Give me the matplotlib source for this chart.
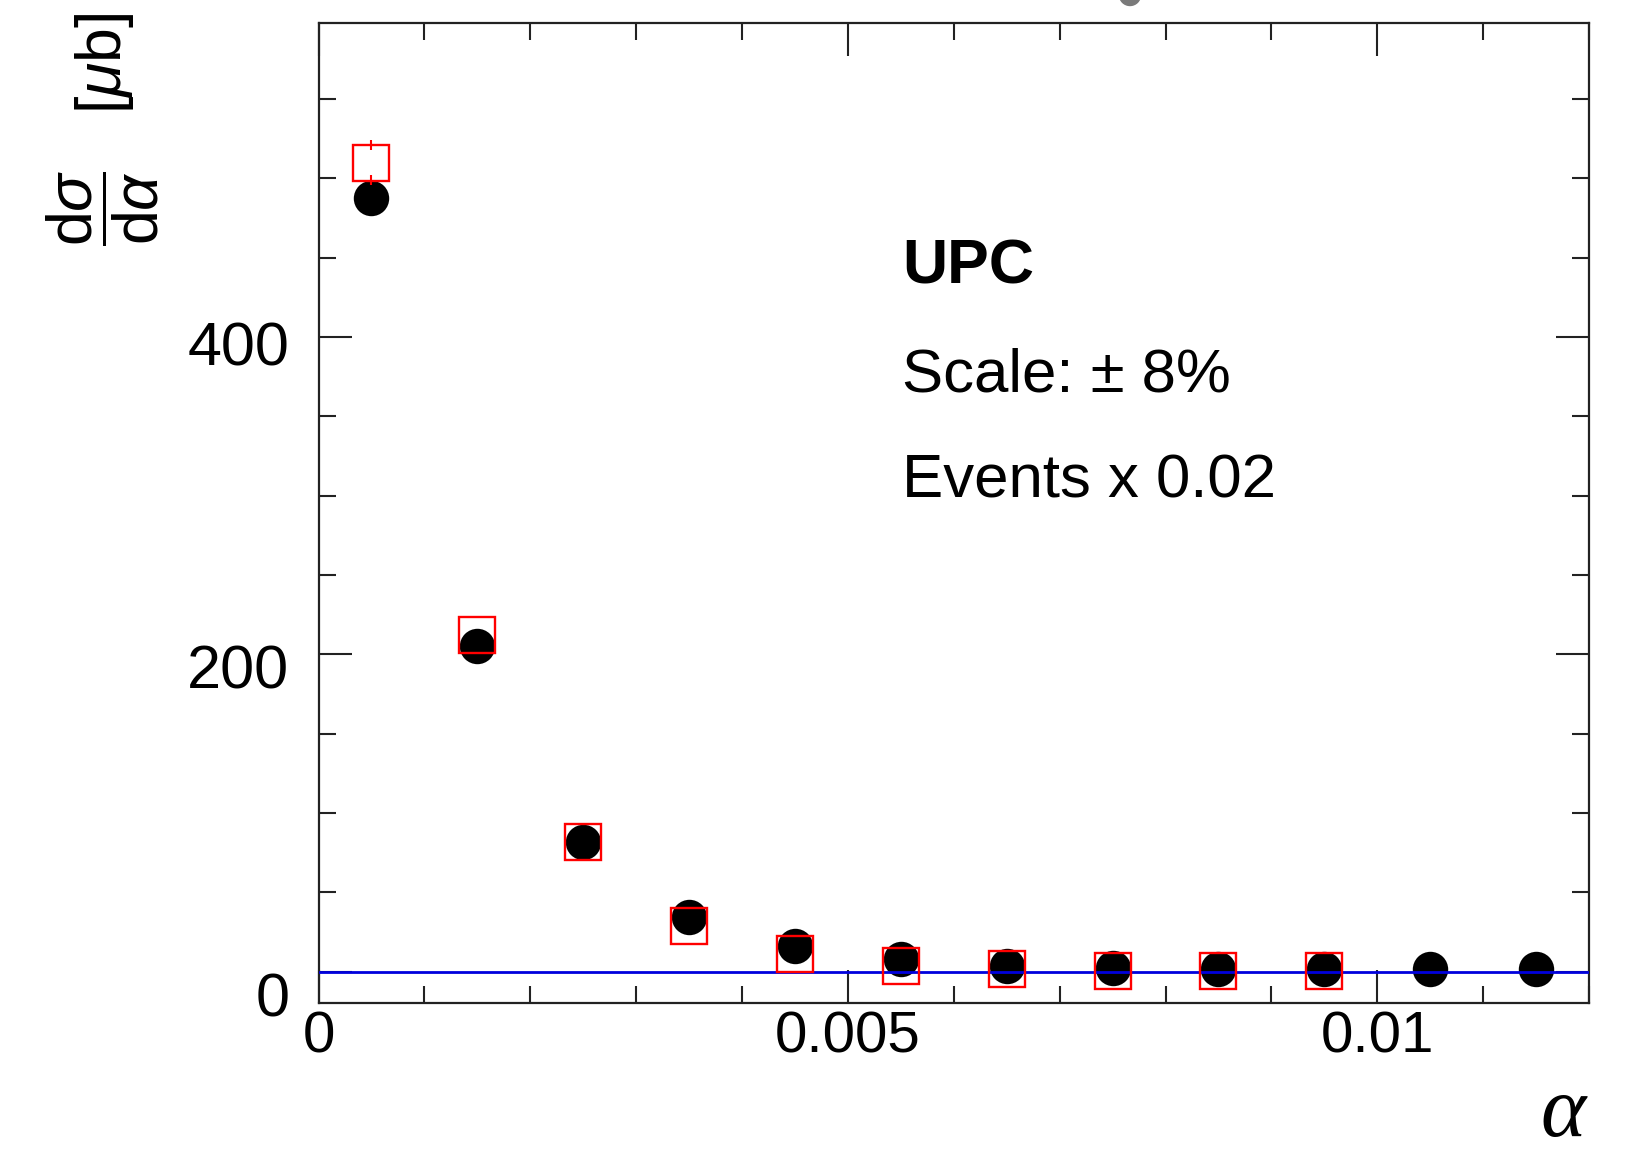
import matplotlib
matplotlib.use("Agg")
import matplotlib.pyplot as plt
from matplotlib.patches import Ellipse
from matplotlib.ticker import MultipleLocator, FixedLocator, FixedFormatter
from matplotlib.transforms import ScaledTranslation

plt.rcParams["font.family"] = ["Liberation Sans", "DejaVu Sans"]
plt.rcParams["mathtext.fontset"] = "custom"
plt.rcParams["mathtext.rm"] = "Liberation Sans"
plt.rcParams["mathtext.it"] = "Liberation Sans:italic"

# alpha bin centres (bin width 0.001)
alpha_centres = [0.0005, 0.0015, 0.0025, 0.0035, 0.0045, 0.0055,
                 0.0065, 0.0075, 0.0085, 0.0095, 0.0105, 0.0115]
# measured events, scaled by 0.02  [ub]
events = [488, 205, 82, 34.5, 16.4, 8.2, 3.8, 2.3, 1.6, 1.6, 1.6, 1.6]
# calculation, first 10 bins
calc = [510, 212, 82, 29, 11.3, 3.3, 1.6, 0.2, 0.2, 0.2]
calc_err = [14, 6, 3, 2, 1, 1, 1, 1, 1, 1]
baseline = 0.0

x_ticks = [0, 0.005, 0.01]
x_labels = ["0", "0.005", "0.01"]
y_ticks = [0, 200, 400]
y_labels = ["0", "200", "400"]

W, H = 1639, 1154
fig = plt.figure(figsize=(W / 100, H / 100), dpi=100)
ax = fig.add_axes([318.5 / W, 1 - 1002.5 / H, (1589 - 318.5) / W, (1002.5 - 23) / H])
ax.set_xlim(0, 0.012)
ax.set_ylim(-19.4, 598)

ax.plot(alpha_centres, events, "o", color="black", markersize=25.5,
        markeredgewidth=0, zorder=3)
ax.axhline(baseline, color="#0000dd", lw=2.0, zorder=4)
ax.plot(alpha_centres[:len(calc)], calc, "s", markersize=26, markerfacecolor="none",
        markeredgecolor="red", markeredgewidth=1.7, zorder=5)

# error bars drawn only outside the marker
gap = 7.8
for x, y, e in zip(alpha_centres, calc, calc_err):
    if e > gap:
        ax.vlines([x, x], [y + gap, y - e], [y + e, y - gap], color="red", lw=1.5, zorder=5)

for sp in ax.spines.values():
    sp.set_linewidth(1.6)
    sp.set_color("#222222")

ax.xaxis.set_major_locator(FixedLocator(x_ticks))
ax.xaxis.set_major_formatter(FixedFormatter(x_labels))
ax.xaxis.set_minor_locator(MultipleLocator(0.001))
ax.yaxis.set_major_locator(FixedLocator(y_ticks))
ax.yaxis.set_major_formatter(FixedFormatter(y_labels))
ax.yaxis.set_minor_locator(MultipleLocator(50))

ax.tick_params(which="both", direction="in", top=True, right=True,
               width=1.5, color="#222222")
ax.tick_params(which="major", length=24)
ax.tick_params(which="minor", length=12)
ax.tick_params(axis="x", which="major", pad=6, labelsize=42)
ax.tick_params(axis="y", which="major", pad=21, labelsize=44)

# shift y labels downward a little, as in the original layout
shifts = {"0": 23, "200": 12, "400": 6}
for lab in ax.get_yticklabels():
    dy = shifts.get(lab.get_text(), 0)
    lab.set_transform(lab.get_transform() + ScaledTranslation(0, -dy / 100, fig.dpi_scale_trans))

fig.text(103 / W, 1 - 12 / H, r"$\dfrac{\mathrm{d}\sigma}{\mathrm{d}\alpha}$   [$\mu$b]",
         rotation=90, ha="center", va="top", fontsize=45)

fig.text(1563 / W, 1 - 1136 / H, "α", family=["Liberation Serif", "DejaVu Serif"],
         fontsize=62, style="italic", ha="center", va="baseline")

tx = 902 / W
fig.text(tx, 1 - 284 / H, "UPC", fontsize=45, fontweight="bold", va="baseline")
fig.text(tx, 1 - 392 / H, "Scale: ± 8%", fontsize=44.5, va="baseline")
fig.text(tx, 1 - 498 / H, "Events x 0.02", fontsize=44.5, va="baseline")

dot = Ellipse((1130 / W, 1 + 5 / H), 21 / W, 21 / H, color="#7a7a7a",
              transform=fig.transFigure, clip_on=False)
fig.add_artist(dot)

fig.savefig("out.png", dpi=100)
